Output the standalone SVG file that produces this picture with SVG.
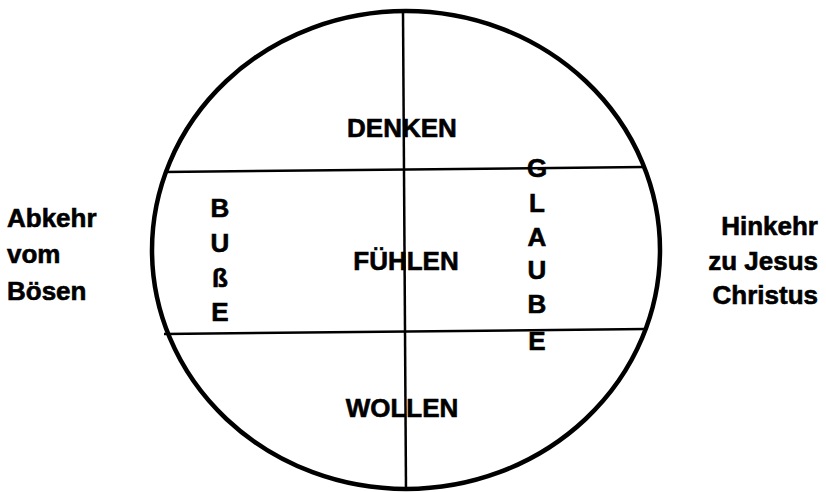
<svg xmlns="http://www.w3.org/2000/svg" width="826" height="492" viewBox="0 0 826 492">
<style>
text{font-family:"Liberation Sans",Arial,sans-serif;font-weight:bold;font-size:26px;fill:#000;stroke:#000;stroke-width:0.6}
.c{text-anchor:middle}
.r{text-anchor:end}
.ln{stroke:#000;stroke-width:2.5;fill:none}
</style>
<rect width="826" height="492" fill="#fff"/>
<g id="circle">
<ellipse cx="406" cy="250" rx="254" ry="239" fill="none" stroke="#000" stroke-width="4.5"/>
</g>
<g id="connectors">
<line class="ln" x1="403" y1="12" x2="406" y2="489"/>
<line class="ln" x1="164" y1="172" x2="644" y2="167"/>
<line class="ln" x1="164" y1="334" x2="646" y2="329"/>
</g>
<g id="denken"><text class="c" x="402" y="137">DENKEN</text></g>
<g id="fuehlen"><text class="c" x="406" y="270">FÜHLEN</text></g>
<g id="wollen"><text class="c" x="402" y="417">WOLLEN</text></g>
<g id="busse">
<text class="c" x="220" y="217">B</text>
<text class="c" x="220" y="252">U</text>
<text class="c" x="220" y="287">ß</text>
<text class="c" x="220" y="321">E</text>
</g>
<g id="glaube">
<text class="c" x="537" y="177">G</text>
<text class="c" x="537" y="212">L</text>
<text class="c" x="537" y="246">A</text>
<text class="c" x="537" y="279">U</text>
<text class="c" x="537" y="313">B</text>
<text class="c" x="537" y="350">E</text>
</g>
<g id="abkehr">
<text x="7" y="227">Abkehr</text>
<text x="7" y="263">vom</text>
<text x="7" y="300">Bösen</text>
</g>
<g id="hinkehr">
<text class="r" x="818" y="235">Hinkehr</text>
<text class="r" x="818" y="270">zu Jesus</text>
<text class="r" x="818" y="304">Christus</text>
</g>
</svg>
